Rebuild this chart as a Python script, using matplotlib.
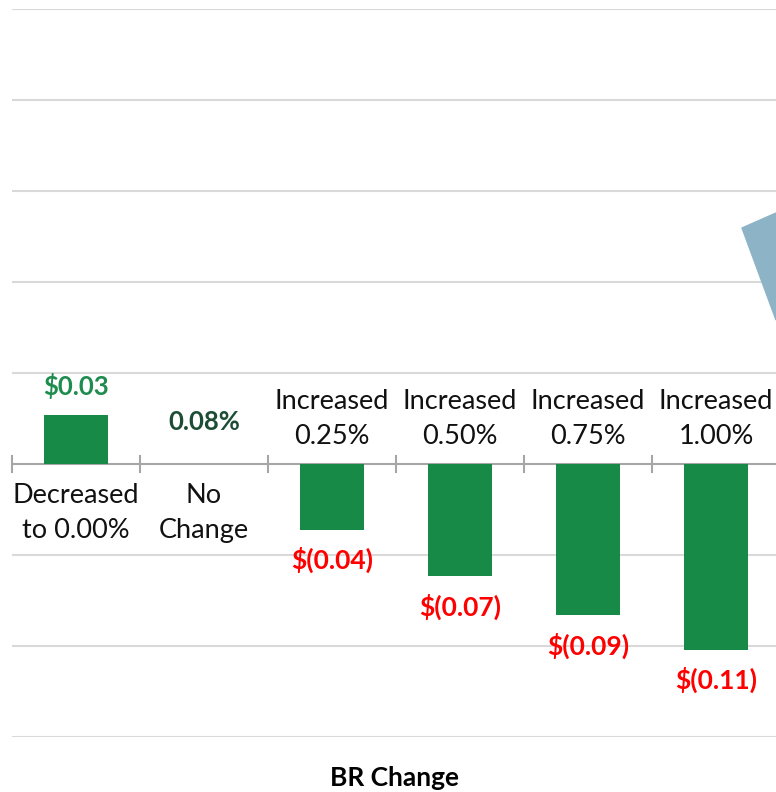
import matplotlib
matplotlib.use("Agg")
import matplotlib.pyplot as plt
from matplotlib.patches import Polygon

plt.rcParams["font.family"] = ["Lato", "DejaVu Sans"]

categories = ["Decreased\nto 0.00%", "No\nChange", "Increased\n0.25%",
              "Increased\n0.50%", "Increased\n0.75%", "Increased\n1.00%"]
values = [0.027, 0.0, -0.036, -0.0615, -0.083, -0.102]
value_labels = ["$0.03", "0.08%", "$(0.04)", "$(0.07)", "$(0.09)", "$(0.11)"]

GREEN = "#178A48"
W, H = 776, 792

fig = plt.figure(figsize=(W / 100, H / 100), dpi=100)
ax = fig.add_axes([12 / W, (H - 737) / H, 764 / W, 728 / H])

x = range(len(categories))
ax.bar(x, values, width=0.5, color=GREEN, zorder=3)

ax.set_xlim(-0.5, -0.5 + 764 / 128)
ax.set_ylim(-0.15, 0.25)
ax.set_yticks([-0.15, -0.10, -0.05, 0.05, 0.10, 0.15, 0.20, 0.25])
ax.yaxis.grid(True, color="#D9D9D9", lw=1.5)
ax.tick_params(axis="y", length=0, labelleft=False)
for s in ax.spines.values():
    s.set_visible(False)

# category axis through zero
ax.axhline(0, color="#A6A6A6", lw=1.5, zorder=2)
ax.set_xticks([])
for b in [i - 0.5 for i in range(7)]:
    ax.plot([b, b], [-0.0045, 0.0045], color="#A6A6A6", lw=1.5, zorder=2,
            clip_on=False)

for i, (v, cat, lab) in enumerate(zip(values, categories, value_labels)):
    if v > 0:
        ax.annotate(lab, (i, v), xytext=(0, 21), textcoords="offset points",
                    ha="center", va="center", fontsize=18.5, fontweight="bold",
                    color="#1E8C4E")
    elif v == 0:
        ax.annotate(lab, (i, 0), xytext=(0, 30), textcoords="offset points",
                    ha="center", va="center", fontsize=18.5, fontweight="bold",
                    color="#1E4D36")
    else:
        ax.annotate(lab, (i, v), xytext=(0, -22), textcoords="offset points",
                    ha="center", va="center", fontsize=19, fontweight="bold",
                    color="#FF0000")
    if v >= 0:
        ax.annotate(cat, (i, 0), xytext=(0, -14), textcoords="offset points",
                    ha="center", va="top", fontsize=19.5, linespacing=1.5,
                    color="#111111")
    else:
        ax.annotate(cat, (i, 0), xytext=(0, 11), textcoords="offset points",
                    ha="center", va="bottom", fontsize=19.5, linespacing=1.5,
                    color="#111111")

fig.text(395 / W, 1 - 778 / H, "BR Change", ha="center", va="center",
         fontsize=19, fontweight="bold")

# partial shape cut off at the right edge
tri = Polygon([(742 / W, 1 - 228 / H), (1.0, 1 - 213 / H), (1.0, 1 - 320 / H)],
              closed=True, transform=fig.transFigure, color="#8DB4C6")
fig.add_artist(tri)

fig.savefig("out.png", dpi=100)
